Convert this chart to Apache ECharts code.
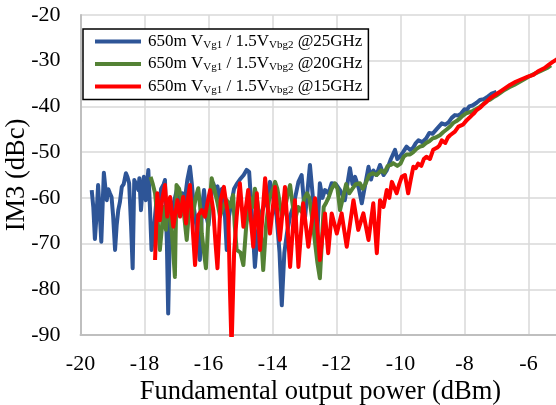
<!DOCTYPE html>
<html><head><meta charset="utf-8">
<script src="https://cdn.jsdelivr.net/npm/echarts@6/dist/echarts.min.js"></script>
<style>html,body{margin:0;padding:0;background:#fff}#c{width:556px;height:405px}</style>
</head><body><div id="c"></div>
<script>
const xTicks = [-20, -18, -16, -14, -12, -10, -8, -6];
const yTicks = [-90, -80, -70, -60, -50, -40, -30, -20];
const seriesNames = ['650m V{s|Vg1} / 1.5V{s|Vbg2} @25GHz', '650m V{s|Vg1} / 1.5V{s|Vbg2} @20GHz', '650m V{s|Vg1} / 1.5V{s|Vbg2} @15GHz'];
const blue25 = [[-19.65,-58.3],[-19.6,-62],[-19.55,-69],[-19.5,-64],[-19.45,-57.2],[-19.4,-63],[-19.35,-69.6],[-19.3,-60],[-19.27,-54.5],[-19.22,-58],[-19.18,-60.5],[-19.13,-58.1],[-19.08,-59],[-19.03,-59.8],[-18.98,-64],[-18.92,-71.4],[-18.87,-66],[-18.82,-62.7],[-18.77,-61],[-18.71,-57.6],[-18.65,-57],[-18.58,-54.6],[-18.53,-55.5],[-18.48,-56.8],[-18.42,-66],[-18.37,-75.4],[-18.32,-56.1],[-18.26,-57],[-18.19,-58.3],[-18.16,-55.7],[-18.11,-62.7],[-18.06,-58],[-18.02,-55.4],[-17.96,-60.5],[-17.88,-53.9],[-17.83,-62],[-17.78,-71.4],[-17.7,-66.3],[-17.62,-60],[-17.55,-62],[-17.48,-58],[-17.4,-57],[-17.36,-56.1],[-17.3,-70],[-17.26,-85.3],[-17.2,-65],[-17.12,-62],[-17.05,-60],[-16.98,-58],[-16.9,-63],[-16.82,-59],[-16.75,-61],[-16.66,-56],[-16.58,-53.2],[-16.52,-57],[-16.46,-62],[-16.38,-66],[-16.32,-70],[-16.27,-73.6],[-16.2,-62],[-16.14,-58.3],[-16.07,-64],[-16.0,-66],[-15.92,-60],[-15.85,-56.8],[-15.8,-58],[-15.72,-57.5],[-15.66,-60],[-15.58,-58],[-15.5,-62],[-15.43,-71.4],[-15.36,-64],[-15.28,-61],[-15.2,-58],[-15.12,-57],[-15.02,-56],[-14.9,-55],[-14.81,-53.9],[-14.73,-54.3],[-14.64,-64],[-14.55,-75.1],[-14.47,-68],[-14.39,-64.1],[-14.28,-62],[-14.18,-60.5],[-14.08,-56.5],[-13.98,-60],[-13.87,-64.1],[-13.78,-72],[-13.71,-83.5],[-13.63,-72],[-13.55,-67.8],[-13.45,-64],[-13.35,-61.9],[-13.19,-56.5],[-13.09,-55],[-12.98,-64.1],[-12.9,-58],[-12.83,-52.8],[-12.73,-60.5],[-12.62,-70.7],[-12.52,-56.8],[-12.44,-60],[-12.36,-58.3],[-12.25,-59],[-12.15,-56.8],[-12.02,-57],[-11.89,-58.3],[-11.74,-60.5],[-11.66,-57],[-11.58,-53.5],[-11.5,-57],[-11.42,-55.4],[-11.3,-58],[-11.21,-61.2],[-11.1,-57],[-11.0,-53.2],[-10.92,-56],[-10.85,-54],[-10.75,-55],[-10.64,-52.8],[-10.53,-55],[-10.43,-54],[-10.3,-51.5],[-10.17,-49.5],[-10.1,-51.5],[-10.02,-51],[-9.92,-50],[-9.81,-48.8],[-9.7,-49.5],[-9.6,-49],[-9.52,-48],[-9.44,-47.4],[-9.32,-47.8],[-9.2,-47],[-9.1,-45.8],[-9.0,-46],[-8.85,-44.8],[-8.71,-43.7],[-8.6,-44],[-8.5,-43.5],[-8.4,-42.5],[-8.3,-41.9],[-8.2,-42],[-8.1,-41.5],[-8.0,-40.6],[-7.93,-40.8],[-7.85,-40],[-7.75,-39.8],[-7.62,-39.2],[-7.52,-38.6],[-7.4,-38.4],[-7.3,-38],[-7.15,-37.2],[-7.0,-36.8]];
const green20 = [[-17.81,-55.4],[-17.74,-57],[-17.67,-59],[-17.6,-64],[-17.52,-71.4],[-17.45,-66],[-17.4,-62],[-17.33,-67],[-17.26,-60.5],[-17.2,-63],[-17.12,-70],[-17.05,-77.3],[-17.0,-57.2],[-16.92,-58],[-16.84,-60.5],[-16.76,-64],[-16.68,-69.2],[-16.6,-62],[-16.5,-64.1],[-16.4,-60],[-16.32,-57.9],[-16.26,-62],[-16.21,-67.8],[-16.14,-72],[-16.08,-75.4],[-16.0,-64],[-15.9,-55.7],[-15.82,-58],[-15.72,-61],[-15.64,-64.1],[-15.55,-62],[-15.43,-60.5],[-15.33,-62],[-15.23,-59.4],[-15.18,-66],[-15.12,-71.4],[-15.0,-72],[-14.91,-74.7],[-14.82,-66],[-14.7,-60],[-14.62,-62],[-14.55,-58],[-14.47,-61],[-14.4,-65],[-14.34,-70],[-14.29,-75.8],[-14.2,-66],[-14.1,-60],[-13.98,-58],[-13.92,-56.5],[-13.85,-58],[-13.8,-60],[-13.7,-64],[-13.6,-62],[-13.52,-59],[-13.45,-57.2],[-13.38,-61],[-13.3,-65],[-13.2,-62],[-13.1,-63],[-13.0,-60],[-12.92,-59],[-12.85,-60],[-12.77,-64],[-12.7,-68],[-12.6,-74],[-12.52,-77.6],[-12.46,-70],[-12.4,-62],[-12.32,-61],[-12.25,-60],[-12.15,-58],[-12.05,-56.8],[-11.97,-58],[-11.89,-62.7],[-11.8,-60],[-11.7,-57],[-11.6,-59],[-11.5,-58],[-11.4,-57],[-11.27,-56.8],[-11.18,-58],[-11.1,-57],[-10.98,-55],[-10.86,-54.6],[-10.75,-55],[-10.6,-54],[-10.5,-54.5],[-10.4,-53],[-10.3,-52.8],[-10.23,-52.4],[-10.1,-53],[-10.0,-52.5],[-9.9,-51],[-9.8,-50.5],[-9.7,-50.5],[-9.6,-50],[-9.5,-49.3],[-9.39,-48.8],[-9.3,-48.6],[-9.2,-48],[-9.1,-47.6],[-9.0,-47],[-8.9,-46.8],[-8.77,-46.3],[-8.66,-45.6],[-8.55,-45],[-8.45,-44.4],[-8.35,-43.6],[-8.25,-43.2],[-8.14,-42.6],[-8.05,-42],[-7.95,-41.5],[-7.85,-41.3],[-7.75,-41],[-7.62,-40.5],[-7.52,-40.1],[-7.4,-39.4],[-7.3,-38.8],[-7.2,-38.5],[-7.1,-38],[-7.0,-37.6],[-6.89,-37.1],[-6.75,-36.4],[-6.6,-35.8],[-6.45,-35.3],[-6.27,-34.6],[-6.12,-34],[-6.0,-33.5],[-5.85,-33],[-5.7,-32.5],[-5.55,-32],[-5.4,-31.5],[-5.3,-31]];
const red15 = [[-17.67,-73.6],[-17.6,-59],[-17.52,-64.9],[-17.44,-60],[-17.36,-57.2],[-17.29,-64.1],[-17.2,-59.8],[-17.1,-66.3],[-16.97,-60.5],[-16.89,-64.1],[-16.79,-59.8],[-16.7,-65.6],[-16.64,-60],[-16.58,-57.2],[-16.5,-66],[-16.42,-74.7],[-16.32,-63.8],[-16.21,-62.7],[-16.11,-64.1],[-16.03,-61],[-15.95,-58.3],[-15.85,-62.7],[-15.78,-70],[-15.72,-75.4],[-15.62,-60.5],[-15.52,-57.6],[-15.45,-61],[-15.38,-64.1],[-15.33,-80],[-15.28,-93],[-15.2,-72],[-15.12,-64.1],[-15.02,-56.8],[-14.91,-66.3],[-14.76,-58.3],[-14.6,-70.7],[-14.49,-59],[-14.39,-71.4],[-14.23,-55.7],[-14.08,-67.8],[-13.92,-57.6],[-13.77,-69.2],[-13.61,-57.6],[-13.45,-75.1],[-13.3,-60.5],[-13.19,-75.1],[-13.04,-61.2],[-12.88,-70.7],[-12.67,-60.1],[-12.52,-73.6],[-12.36,-63.4],[-12.26,-72.1],[-12.15,-63.4],[-11.99,-67.8],[-11.84,-63.4],[-11.68,-70.7],[-11.47,-60.5],[-11.32,-67],[-11.16,-63.4],[-11.0,-69.2],[-10.85,-61.2],[-10.74,-72.1],[-10.64,-60.5],[-10.53,-62],[-10.43,-58.3],[-10.35,-60],[-10.27,-56.5],[-10.12,-59],[-10.04,-57],[-9.96,-55.4],[-9.86,-55],[-9.76,-59],[-9.68,-56],[-9.6,-53.2],[-9.52,-53.5],[-9.45,-52.5],[-9.35,-53],[-9.27,-51.5],[-9.19,-51],[-9.08,-51.5],[-8.98,-49.5],[-8.85,-49],[-8.78,-48.5],[-8.71,-47.4],[-8.6,-48],[-8.52,-46.8],[-8.45,-46.3],[-8.3,-45.5],[-8.19,-44.4],[-8.05,-44],[-7.93,-43],[-7.85,-42.5],[-7.78,-42],[-7.7,-41.5],[-7.62,-40.8],[-7.5,-40.2],[-7.4,-39.5],[-7.3,-38.9],[-7.2,-38.2],[-7.05,-37.5],[-6.9,-36.8],[-6.75,-36.1],[-6.58,-35.3],[-6.4,-34.6],[-6.2,-34],[-6.02,-33.5],[-5.85,-33.1],[-5.7,-32.3],[-5.5,-31.6],[-5.35,-30.8],[-5.23,-30.2],[-5.05,-29.4]];
const colors = ['#2E5597', '#548235', '#FF0000'];
const FONT = '"Liberation Serif","Times New Roman",serif';

const chart = echarts.init(document.getElementById('c'), null, {renderer: 'canvas'});
const datasets = [blue25, green20, red15];
chart.setOption({
  animation: false,
  backgroundColor: '#fff',
  grid: {left: 80.5, top: 15, width: 480, height: 320, containLabel: false, outerBoundsMode: 'none'},
  legend: {
    orient: 'vertical', left: 83, top: 29,
    backgroundColor: '#fff', borderColor: '#000', borderWidth: 1.5,
    padding: [4, 6, 4, 12], itemGap: 5, itemWidth: 46, itemHeight: 4,
    icon: 'rect',
    data: seriesNames,
    formatter: function (n) { return n; },
    textStyle: {
      fontFamily: FONT, fontSize: 17, color: '#000', padding: [0, 0, 0, 2],
      rich: { s: {fontFamily: FONT, fontSize: 11, color: '#000', padding: [7, 0, 0, 0]} }
    }
  },
  xAxis: {
    type: 'value', min: -20, max: -5, interval: 2,
    name: 'Fundamental output power (dBm)', nameLocation: 'middle', nameGap: 44, nameMoveOverlap: false,
    nameTextStyle: {fontFamily: FONT, fontSize: 26.5, color: '#000'},
    axisLine: {show: true, onZero: false, lineStyle: {color: '#bfbfbf', width: 2}},
    axisTick: {show: false},
    axisLabel: {fontFamily: FONT, fontSize: 22, color: '#000', margin: 18, showMaxLabel: false,
      formatter: function (v) { return xTicks.indexOf(v) >= 0 ? String(v) : ''; }},
    splitLine: {show: true, lineStyle: {color: '#d9d9d9', width: 1.5}}
  },
  yAxis: {
    type: 'value', min: -90, max: -20, interval: 10,
    name: 'IM3 (dBc)', nameLocation: 'middle', nameGap: 50, nameRotate: 90, nameMoveOverlap: false,
    nameTextStyle: {fontFamily: FONT, fontSize: 26.5, color: '#000'},
    axisLine: {show: true, onZero: false, lineStyle: {color: '#bfbfbf', width: 2}},
    axisTick: {show: false},
    axisLabel: {fontFamily: FONT, fontSize: 22, color: '#000', margin: 20,
      formatter: function (v) { return yTicks.indexOf(v) >= 0 ? String(v) : ''; }},
    splitLine: {show: true, lineStyle: {color: '#d9d9d9', width: 1.5}}
  },
  series: datasets.map(function (d, i) {
    return {
      name: seriesNames[i], type: 'line', data: d, showSymbol: false, symbol: 'none',
      clip: true, z: 3 + i,
      lineStyle: {color: colors[i], width: 4, join: 'round'},
      itemStyle: {color: colors[i]}
    };
  })
});
</script></body></html>
